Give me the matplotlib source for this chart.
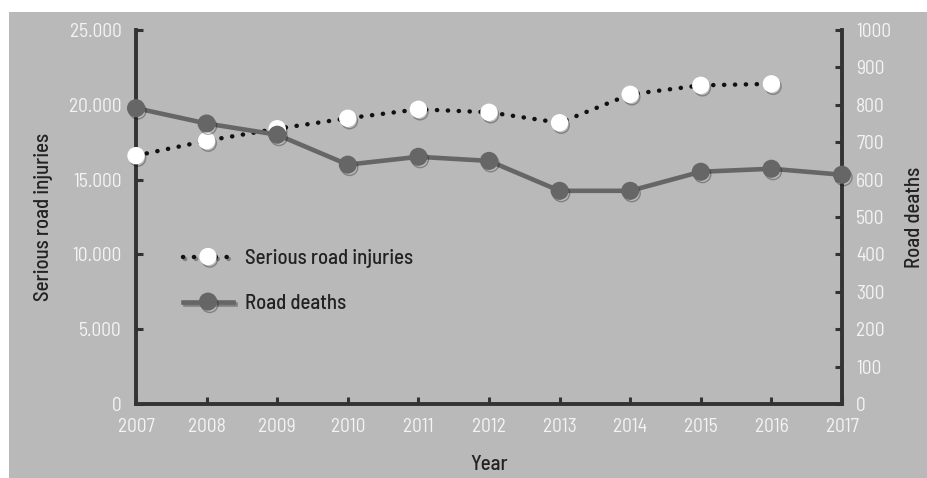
import numpy as np
import matplotlib.pyplot as plt
import matplotlib.patheffects as pe
from matplotlib.patches import Rectangle
from matplotlib.lines import Line2D
from matplotlib.ticker import FuncFormatter

plt.rcParams['font.family'] = ['Barlow Semi Condensed', 'Roboto Condensed', 'Asap Condensed', 'DejaVu Sans']

years = [2007, 2008, 2009, 2010, 2011, 2012, 2013, 2014, 2015, 2016, 2017]
injury_years = years[:-1]
serious_injuries = [16600, 17600, 18400, 19100, 19700, 19500, 18800, 20700, 21300, 21400]
road_deaths = [791, 750, 720, 640, 661, 650, 570, 570, 621, 629, 613]

bg = "#b9b9b9"
axis_col = "#333333"
tick_col = "#f4f4f4"
label_col = "#222222"
death_col = "#666666"

fig = plt.figure(figsize=(9.28, 4.78), dpi=100)
fig.patches.append(Rectangle((9 / 928, 0), 1 - 9 / 928, (478 - 12) / 478,
                             transform=fig.transFigure, facecolor=bg,
                             edgecolor="none", zorder=-5))

ax = fig.add_axes([136 / 928, 74 / 478, 706 / 928, 374 / 478])
ax.set_facecolor("none")
ax2 = ax.twinx()
ax2.set_facecolor("none")

shadow = [pe.SimpleLineShadow(offset=(1.2, -1.8), shadow_color="black", alpha=0.3), pe.Normal()]
dotted = (0, (0.05, 2.4))

# lines first, then markers with a soft drop shadow
ax.plot(injury_years, serious_injuries, color="#111111", linewidth=3.2,
        linestyle=dotted, dash_capstyle="round", clip_on=False, zorder=2)
ax.plot(injury_years, serious_injuries, linestyle="none", marker="o", markersize=11.5,
        markerfacecolor="white", markeredgecolor="white", clip_on=False, zorder=3,
        path_effects=shadow)

ax2.plot(years, road_deaths, color=death_col, linewidth=3.3, clip_on=False, zorder=2)
ax2.plot(years, road_deaths, linestyle="none", marker="o", markersize=12,
         markerfacecolor=death_col, markeredgecolor=death_col, clip_on=False,
         zorder=3, path_effects=shadow)

ax.set_xlim(2007, 2017)
ax.set_ylim(0, 25000)
ax2.set_ylim(0, 1000)
ax.set_xticks(years)
ax.set_yticks(np.arange(0, 25001, 5000))
ax2.set_yticks(np.arange(0, 1001, 100))
ax.yaxis.set_major_formatter(FuncFormatter(lambda v, p: f"{int(v):,}".replace(",", ".")))

for a in (ax, ax2):
    for s in a.spines.values():
        s.set_visible(False)
ax.spines["left"].set_visible(True)
ax.spines["bottom"].set_visible(True)
ax2.spines["right"].set_visible(True)
for s in (ax.spines["left"], ax.spines["bottom"], ax2.spines["right"]):
    s.set_color(axis_col)
    s.set_linewidth(2.8)

ax.tick_params(axis="both", direction="in", length=5, width=2.2, color=axis_col,
               labelcolor=tick_col, labelsize=14, pad=10)
ax2.tick_params(axis="y", direction="in", length=5, width=2.2, color=axis_col,
                labelcolor=tick_col, labelsize=14, pad=10)

ax.set_xlabel("Year", fontsize=15, color=label_col, labelpad=14, fontweight="medium")
ax.set_ylabel("Serious road injuries", fontsize=15, color=label_col, labelpad=12,
              fontweight="medium")
ax2.set_ylabel("Road deaths", fontsize=15, color=label_col, labelpad=10,
               fontweight="medium")

h1 = Line2D([], [], color="#111111", linewidth=3.2, linestyle=dotted,
            dash_capstyle="round", marker="o", markersize=11.5,
            markerfacecolor="white", markeredgecolor="white", path_effects=shadow)
h2 = Line2D([], [], color=death_col, linewidth=3.3, marker="o", markersize=12,
            markerfacecolor=death_col, markeredgecolor=death_col, path_effects=shadow)
ax2.legend([h1, h2], ["Serious road injuries", "Road deaths"], loc="upper left",
           bbox_to_anchor=(0.04, 0.465), frameon=False,
           handlelength=2.4, labelspacing=1.25, handletextpad=0.6,
           labelcolor=label_col, prop={"weight": "medium", "size": 15})

fig.savefig("out.png", dpi=100)
